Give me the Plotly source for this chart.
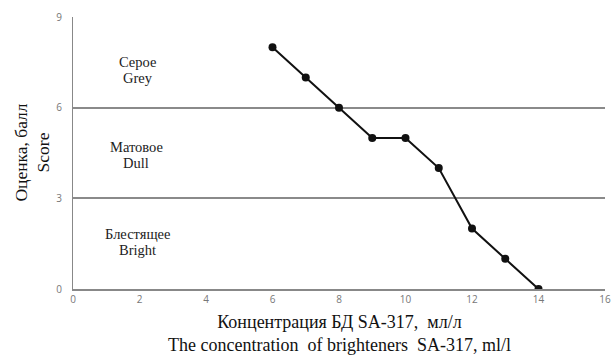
import plotly.graph_objects as go

conc = [6, 7, 8, 9, 10, 11, 12, 13, 14]
score = [8, 7, 6, 5, 5, 4, 2, 1, 0]
x_ticks = [0, 2, 4, 6, 8, 10, 12, 14, 16]
y_ticks = [0, 3, 6, 9]
zone_ru = ["Серое", "Матовое", "Блестящее"]
zone_en = ["Grey", "Dull", "Bright"]
zone_y = [7.25, 4.45, 1.56]
zone_x = [1.95, 1.9, 1.95]

fig = go.Figure()
fig.add_trace(go.Scatter(
    x=conc, y=score, mode="lines+markers",
    line=dict(color="#111111", width=2),
    marker=dict(color="#111111", size=8),
    showlegend=False, hoverinfo="skip"))

for ru, en, xx, yy in zip(zone_ru, zone_en, zone_x, zone_y):
    for t, sh in ((ru, 8), (en, -8)):
        fig.add_annotation(x=xx, y=yy, text=t, showarrow=False, yshift=sh,
                           font=dict(family="Liberation Serif", size=14.5, color="#222"),
                           align="center")

fig.add_annotation(xref="paper", yref="paper", x=0.5, y=-0.078, yanchor="top",
                   text="Концентрация БД SA-317,  мл/л<br>The concentration  of brighteners  SA-317, ml/l",
                   showarrow=False, align="center",
                   font=dict(family="Liberation Serif", size=18, color="#111"))
fig.add_annotation(xref="paper", yref="paper", x=-0.122, y=0.5, xanchor="left",
                   text="Оценка, балл<br>Score", textangle=-90, showarrow=False,
                   align="center",
                   font=dict(family="Liberation Serif", size=17.5, color="#111"))

fig.update_xaxes(range=[0, 16], tickvals=x_ticks, showgrid=False, zeroline=False,
                 showline=True, linecolor="#888", linewidth=1.5,
                 ticks="", tickfont=dict(family="Open Sans", size=10, color="#777"))
fig.update_yaxes(range=[0, 9], tickvals=y_ticks, showgrid=True, gridcolor="#8a8a8a",
                 gridwidth=1.5, zeroline=False, showline=True, linecolor="#888",
                 linewidth=1.2, ticks="", ticklabelstandoff=8,
                 tickfont=dict(family="Open Sans", size=10, color="#777"))

fig.update_layout(width=613, height=356, margin=dict(l=73, r=8, t=17, b=67, autoexpand=False),
                  plot_bgcolor="white", paper_bgcolor="white")
fig.write_html("out.html", config={"displayModeBar": False},
               post_script="document.body.style.margin='0';document.body.style.padding='0';")
